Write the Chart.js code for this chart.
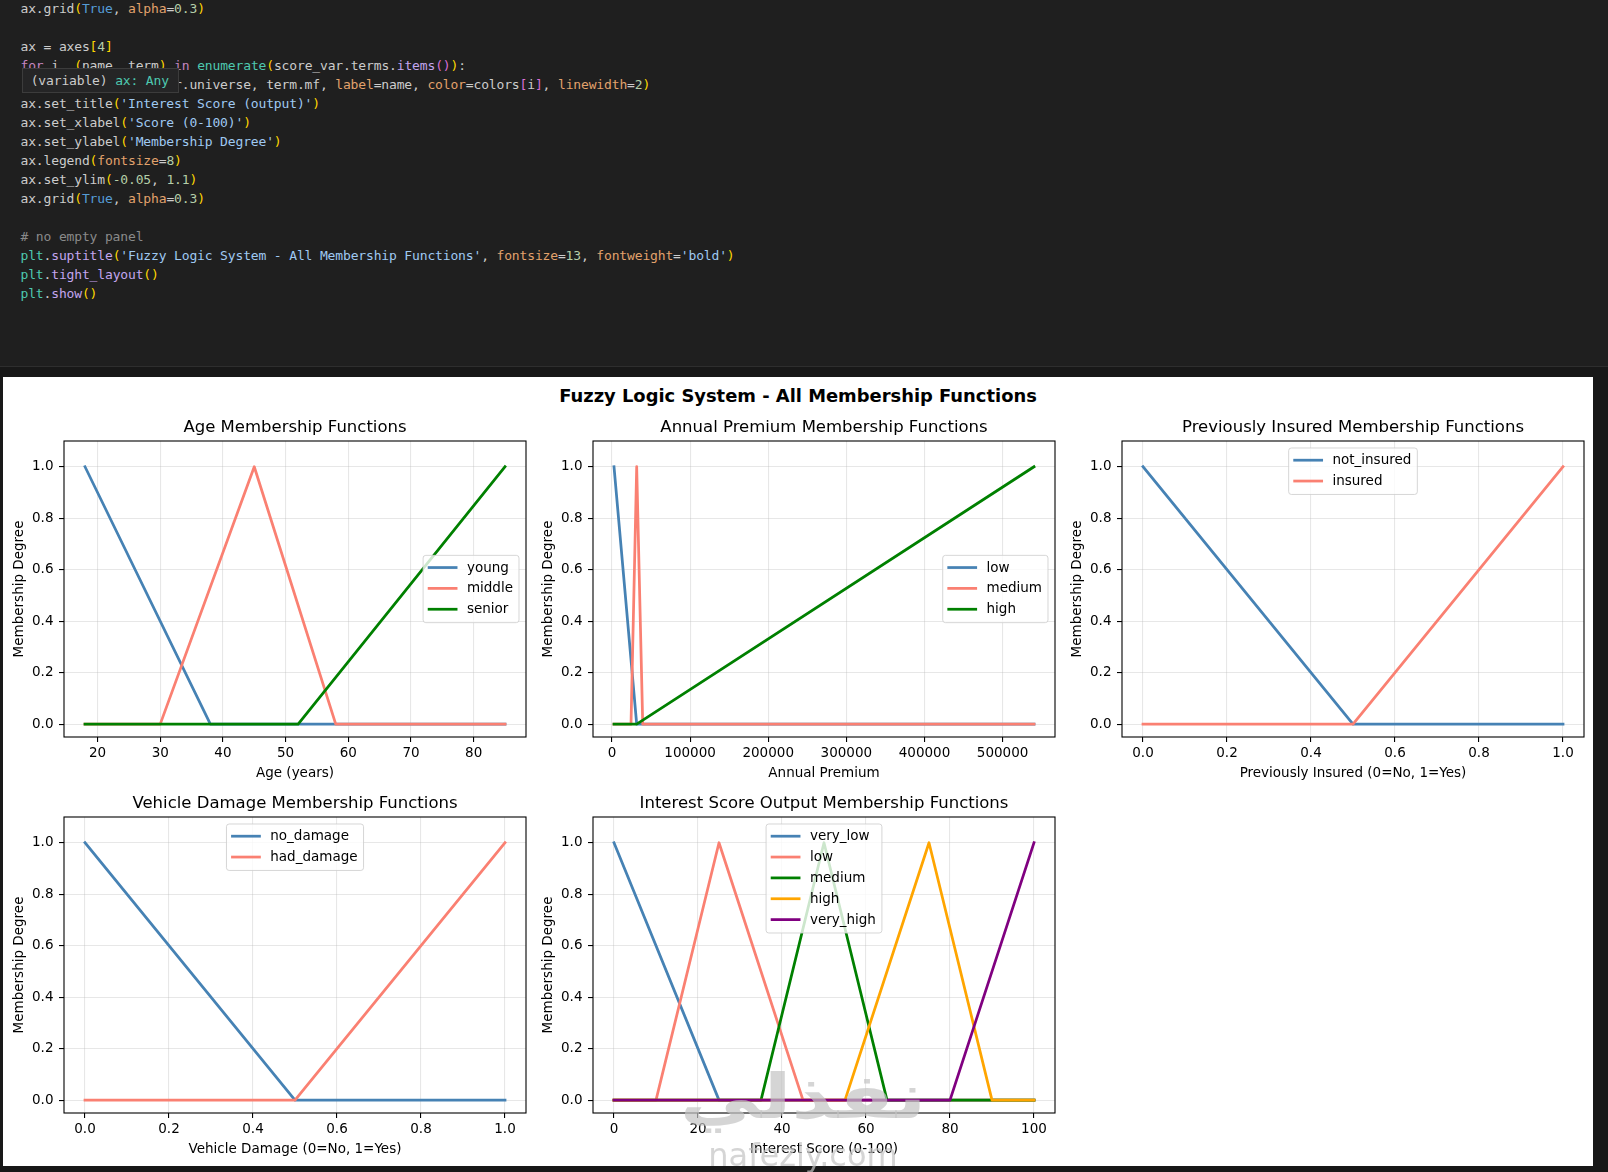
<!DOCTYPE html>
<html><head><meta charset="utf-8">
<script src="https://cdn.jsdelivr.net/npm/chart.js@4.4.1/dist/chart.umd.min.js"></script>
<style>
html,body{margin:0;padding:0;}
body{width:1608px;height:1172px;background:#181818;position:relative;overflow:hidden;font-family:'DejaVu Sans',sans-serif;}
#codebg{position:absolute;left:0;top:0;width:1608px;height:366px;background:#1f1f1f;}
#sep{position:absolute;left:0;top:366px;width:1608px;height:1px;background:#2e2e2e;}
pre#code{position:absolute;left:20.5px;top:-1.3px;margin:0;font-family:'DejaVu Sans Mono',monospace;font-size:13px;line-height:19px;letter-spacing:-0.15px;color:#cccccc;}
.y{color:#ffd700}.o{color:#da70d6}.b{color:#569cd6}.p{color:#e2a26c}.n{color:#b5cea8}
.s{color:#9fc9f2}.f{color:#c3a6ef}.m{color:#4ec9b0}.k{color:#c586c0}.c{color:#8a8a8a}
#tip{position:absolute;left:21.7px;top:68.3px;width:147px;height:23px;background:#252526;border:1px solid #3c3c3c;
 font-family:'DejaVu Sans Mono',monospace;font-size:13px;line-height:23px;letter-spacing:-0.15px;color:#cccccc;padding-left:8px;box-sizing:content-box;}
#fig{position:absolute;left:2.7px;top:376.7px;width:1590.6px;height:789.3px;background:#fff;}
.box{position:absolute;width:532px;height:371px;}
#sup{position:absolute;left:2.7px;width:1590.6px;top:384.8px;line-height:22px;text-align:center;font-weight:bold;font-size:17.9px;color:#000;}
#wm1{position:absolute;left:653px;width:300px;top:1062px;text-align:center;font-size:62px;font-weight:bold;line-height:70px;color:rgba(195,195,195,0.7);direction:rtl;transform:scaleX(1.3);transform-origin:center;}
#wm2{position:absolute;left:653px;width:300px;top:1139px;text-align:center;font-size:32px;line-height:32px;color:rgba(195,195,195,0.7);}
</style></head>
<body>
<div id="codebg"></div>
<pre id="code">ax.grid<span class="y">(</span><span class="b">True</span>, <span class="p">alpha</span>=<span class="n">0.3</span><span class="y">)</span>

ax = axes<span class="y">[</span><span class="n">4</span><span class="y">]</span>
<span class="k">for</span> i, <span class="y">(</span>name, term<span class="y">)</span> <span class="k">in</span> <span class="m">enumerate</span><span class="y">(</span>score_var.terms.<span class="f">items</span><span class="o">()</span><span class="y">)</span>:
    ax.plot<span class="y">(</span>score_var.universe, term.mf, <span class="p">label</span>=name, <span class="p">color</span>=colors<span class="o">[</span>i<span class="o">]</span>, <span class="p">linewidth</span>=<span class="n">2</span><span class="y">)</span>
ax.set_title<span class="y">(</span><span class="s">'Interest Score (output)'</span><span class="y">)</span>
ax.set_xlabel<span class="y">(</span><span class="s">'Score (0-100)'</span><span class="y">)</span>
ax.set_ylabel<span class="y">(</span><span class="s">'Membership Degree'</span><span class="y">)</span>
ax.legend<span class="y">(</span><span class="p">fontsize</span>=<span class="n">8</span><span class="y">)</span>
ax.set_ylim<span class="y">(</span><span class="n">-0.05</span>, <span class="n">1.1</span><span class="y">)</span>
ax.grid<span class="y">(</span><span class="b">True</span>, <span class="p">alpha</span>=<span class="n">0.3</span><span class="y">)</span>

<span class="c"># no empty panel</span>
<span class="m">plt</span>.<span class="f">suptitle</span><span class="y">(</span><span class="s">'Fuzzy Logic System - All Membership Functions'</span>, <span class="p">fontsize</span>=<span class="n">13</span>, <span class="p">fontweight</span>=<span class="s">'bold'</span><span class="y">)</span>
<span class="m">plt</span>.<span class="f">tight_layout</span><span class="y">()</span>
<span class="m">plt</span>.<span class="f">show</span><span class="y">()</span></pre>
<div id="tip">(variable) <span class="m">ax: Any</span></div>
<div id="sep"></div>
<div id="fig"></div>
<div id="sup">Fuzzy Logic System - All Membership Functions</div>
<div class="box" style="left:0.3px;top:411.3px"><canvas id="c1" width="532" height="371"></canvas></div>
<div class="box" style="left:529.3px;top:411.3px"><canvas id="c2" width="532" height="371"></canvas></div>
<div class="box" style="left:1057.5px;top:411.3px"><canvas id="c3" width="532" height="371"></canvas></div>
<div class="box" style="left:0.3px;top:787.3px"><canvas id="c4" width="532" height="371"></canvas></div>
<div class="box" style="left:529.3px;top:787.3px"><canvas id="c5" width="532" height="371"></canvas></div>
<div id="wm1">نفذلي</div>
<div id="wm2">nafezly.com</div>
<script>
// ---- data: breakpoints of each membership function ----
const ageYoungX = [18, 38, 85],            ageYoungY = [1, 0, 0];
const ageMiddleX = [18, 30, 45, 58, 85],   ageMiddleY = [0, 0, 1, 0, 0];
const ageSeniorX = [18, 52, 85],           ageSeniorY = [0, 0, 1];

const premLowX = [2630, 31669, 540165],                 premLowY = [1, 0, 0];
const premMediumX = [2630, 24405, 31669, 39400, 540165], premMediumY = [0, 0, 1, 0, 0];
const premHighX = [2630, 31669, 540165],                premHighY = [0, 0, 1];

const insNotX = [0, 0.5, 1], insNotY = [1, 0, 0];
const insYesX = [0, 0.5, 1], insYesY = [0, 0, 1];

const dmgNoX = [0, 0.5, 1],  dmgNoY = [1, 0, 0];
const dmgHadX = [0, 0.5, 1], dmgHadY = [0, 0, 1];

const scoreVeryLowX = [0, 25, 100],           scoreVeryLowY = [1, 0, 0];
const scoreLowX = [0, 10, 25, 45, 100],       scoreLowY = [0, 0, 1, 0, 0];
const scoreMediumX = [0, 35, 50, 65, 100],    scoreMediumY = [0, 0, 1, 0, 0];
const scoreHighX = [0, 55, 75, 90, 100],      scoreHighY = [0, 0, 1, 0, 0];
const scoreVeryHighX = [0, 80, 100],          scoreVeryHighY = [0, 0, 1];

// ---- tick labels ----
const degreeTicks = [0, 0.2, 0.4, 0.6, 0.8, 1.0];
const ageTicks = [20, 30, 40, 50, 60, 70, 80];
const premTicks = [0, 100000, 200000, 300000, 400000, 500000];
const binaryTicks = [0, 0.2, 0.4, 0.6, 0.8, 1.0];
const scoreTicks = [0, 20, 40, 60, 80, 100];

// ---- colors ----
const C = {steelblue:'#4682b4', salmon:'#fa8072', green:'#008000', orange:'#ffa500', purple:'#800080'};

Chart.defaults.font.family = "'DejaVu Sans', sans-serif";
Chart.defaults.font.size = 13.5;
Chart.defaults.color = '#000';

function pts(xs, ys){ return xs.map((x,i)=>({x:x, y:ys[i]})); }
function ds(label, xs, ys, color){
  return {label, data: pts(xs, ys), borderColor: color, backgroundColor: color, borderWidth: 2.75,
          pointRadius: 0, pointHoverRadius: 0, fill: false, tension: 0,
          borderJoinStyle: 'round', borderCapStyle: 'square'};
}
// matplotlib draws later lines on top: give earlier datasets a higher "order" (drawn first)
function stack(list){ list.forEach((d, i) => { d.order = list.length - i; }); return list; }
function range(lo, hi){ const m = (hi - lo) * 0.05; return [lo - m, hi + m]; }

const mplPlugin = {
  id: 'mpl',
  afterDatasetsDraw(chart, args, opts){
    const ctx = chart.ctx, a = chart.chartArea;
    ctx.save();
    ctx.strokeStyle = '#000'; ctx.lineWidth = 1.1;
    ctx.strokeRect(a.left, a.top, a.right - a.left, a.bottom - a.top);
    ctx.fillStyle = '#000';
    ctx.font = "16.5px 'DejaVu Sans'";
    ctx.textAlign = 'center'; ctx.textBaseline = 'middle';
    ctx.fillText(opts.title, (a.left + a.right) / 2, a.top - 13.6);
    // legend
    const fs = 13.5;
    ctx.font = fs + "px 'DejaVu Sans'";
    const sets = chart.data.datasets;
    const tw = Math.max(...sets.map(d => ctx.measureText(d.label).width));
    const pad = 6, hl = 27, gap = 10.8, rowH = 20.85;
    const w = pad + hl + gap + tw + pad, h = sets.length * rowH + 4.75;
    let x, y;
    if (opts.legend === 'centerRight') { x = a.right - 7 - w; y = (a.top + a.bottom) / 2 - h / 2; }
    else { x = (a.left + a.right) / 2 - w / 2; y = a.top + 7; }
    const r = 2.7;
    ctx.beginPath();
    ctx.moveTo(x + r, y); ctx.lineTo(x + w - r, y); ctx.arcTo(x + w, y, x + w, y + r, r);
    ctx.lineTo(x + w, y + h - r); ctx.arcTo(x + w, y + h, x + w - r, y + h, r);
    ctx.lineTo(x + r, y + h); ctx.arcTo(x, y + h, x, y + h - r, r);
    ctx.lineTo(x, y + r); ctx.arcTo(x, y, x + r, y, r); ctx.closePath();
    ctx.fillStyle = 'rgba(255,255,255,0.8)'; ctx.fill();
    ctx.strokeStyle = 'rgba(204,204,204,0.8)'; ctx.lineWidth = 1; ctx.stroke();
    sets.forEach((d, i) => {
      const cy = y + 12.2 + i * rowH;
      ctx.beginPath(); ctx.strokeStyle = d.borderColor; ctx.lineWidth = 2.75; ctx.lineCap = 'square';
      ctx.moveTo(x + pad, cy); ctx.lineTo(x + pad + hl, cy); ctx.stroke();
      ctx.fillStyle = '#000'; ctx.textAlign = 'left'; ctx.textBaseline = 'middle';
      ctx.fillText(d.label, x + pad + hl + gap, cy + 0.5);
    });
    ctx.restore();
  }
};

function makeChart(id, title, xlabel, datasets, xr, xticks, xfmt, legend){
  const gridOpts = {color: 'rgba(176,176,176,0.3)', lineWidth: 1.1, drawTicks: true, tickLength: 5, tickColor: '#000', tickWidth: 1.1};
  new Chart(document.getElementById(id), {
    type: 'line',
    data: {datasets: stack(datasets)},
    plugins: [mplPlugin],
    options: {
      responsive: false, animation: false, events: [],
      layout: {padding: {top: 30, right: 6, bottom: 0, left: 0}, autoPadding: false},
      plugins: {legend: {display: false}, tooltip: {enabled: false}, title: {display: false},
                mpl: {title, legend}},
      scales: {
        x: {type: 'linear', min: xr[0], max: xr[1], bounds: 'data',
            afterBuildTicks: s => { s.ticks = xticks.map(v => ({value: v})); },
            afterFit: s => { s.height = 45; },
            ticks: {callback: xfmt, padding: 3, autoSkip: false, maxRotation: 0, minRotation: 0, color: '#000', font: {size: 13.5}},
            grid: gridOpts, border: {display: false},
            title: {display: true, text: xlabel, color: '#000', font: {size: 13.5, lineHeight: 1.2}, padding: {top: 0, bottom: 0}}},
        y: {type: 'linear', min: -0.05, max: 1.1, bounds: 'data',
            afterBuildTicks: s => { s.ticks = degreeTicks.map(v => ({value: v})); },
            afterFit: s => { s.width = 64; },
            ticks: {callback: v => v.toFixed(1), padding: 5.5, color: '#000', font: {size: 13.5}},
            grid: gridOpts, border: {display: false},
            title: {display: true, text: 'Membership Degree', color: '#000', font: {size: 13.5, lineHeight: 1.2}, padding: {top: 11, bottom: 0}}}
      }
    }
  });
}

const fmt1 = v => Number(v).toFixed(1);
const fmtInt = v => String(Math.round(v));

makeChart('c1', 'Age Membership Functions', 'Age (years)', [
  ds('young', ageYoungX, ageYoungY, C.steelblue),
  ds('middle', ageMiddleX, ageMiddleY, C.salmon),
  ds('senior', ageSeniorX, ageSeniorY, C.green)
], range(18, 85), ageTicks, fmtInt, 'centerRight');

makeChart('c2', 'Annual Premium Membership Functions', 'Annual Premium', [
  ds('low', premLowX, premLowY, C.steelblue),
  ds('medium', premMediumX, premMediumY, C.salmon),
  ds('high', premHighX, premHighY, C.green)
], range(2630, 540165), premTicks, fmtInt, 'centerRight');

makeChart('c3', 'Previously Insured Membership Functions', 'Previously Insured (0=No, 1=Yes)', [
  ds('not_insured', insNotX, insNotY, C.steelblue),
  ds('insured', insYesX, insYesY, C.salmon)
], range(0, 1), binaryTicks, fmt1, 'upperCenter');

makeChart('c4', 'Vehicle Damage Membership Functions', 'Vehicle Damage (0=No, 1=Yes)', [
  ds('no_damage', dmgNoX, dmgNoY, C.steelblue),
  ds('had_damage', dmgHadX, dmgHadY, C.salmon)
], range(0, 1), binaryTicks, fmt1, 'upperCenter');

makeChart('c5', 'Interest Score Output Membership Functions', 'Interest Score (0-100)', [
  ds('very_low', scoreVeryLowX, scoreVeryLowY, C.steelblue),
  ds('low', scoreLowX, scoreLowY, C.salmon),
  ds('medium', scoreMediumX, scoreMediumY, C.green),
  ds('high', scoreHighX, scoreHighY, C.orange),
  ds('very_high', scoreVeryHighX, scoreVeryHighY, C.purple)
], range(0, 100), scoreTicks, fmtInt, 'upperCenter');
</script>
</body></html>
